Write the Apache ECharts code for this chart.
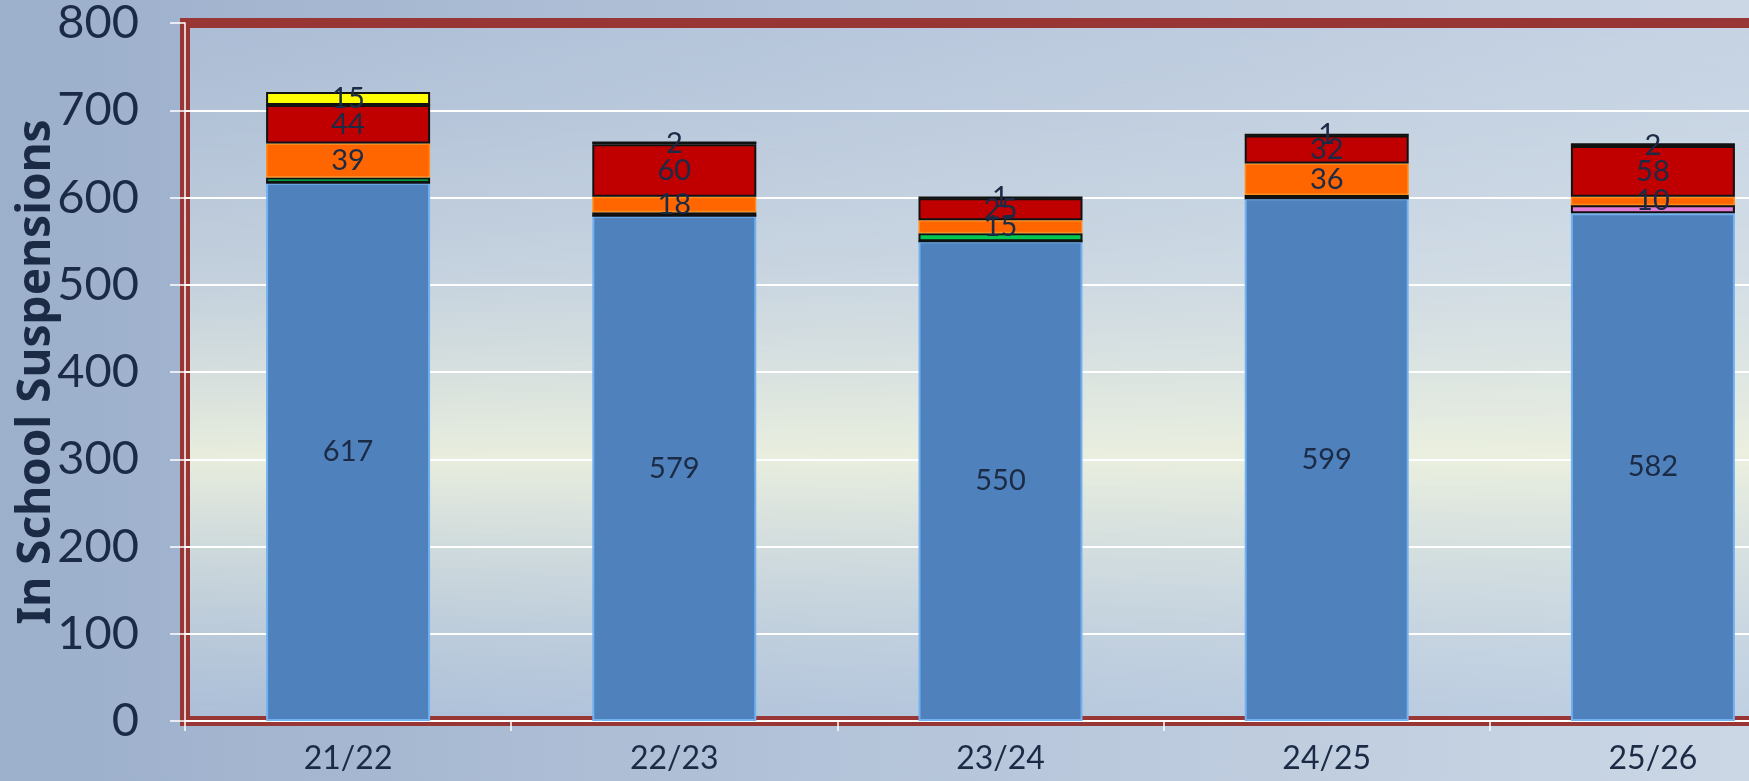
<!DOCTYPE html>
<html>
<head>
<meta charset="utf-8">
<script src="https://cdn.jsdelivr.net/npm/echarts@6/dist/echarts.min.js"></script>
<style>
  html, body { margin: 0; padding: 0; }
  body {
    width: 1749px; height: 781px; overflow: hidden;
    background: linear-gradient(to right, #9cafcb 0%, #b2c2d8 45%, #cbd7e5 100%);
  }
  #chart { width: 1749px; height: 781px; }
</style>
</head>
<body>
<div id="chart"></div>
<script>
// 学年
const years = ['21/22', '22/23', '23/24', '24/25', '25/26']
// 各段数值（自下而上）
const blueVals = [617, 579, 550, 599, 582]
const pinkVals = [0, 0, 0, 0, 9]
const greenVals = [6, 4, 9, 4, 0]
const orangeVals = [39, 18, 15, 36, 10]
const redVals = [44, 60, 25, 32, 58]
const oliveVals = [0, 2, 1, 1, 2]
const yellowVals = [15, 0, 0, 0, 0]
// y轴刻度
const yMin = 0
const yMax = 800
const yStep = 100

const textColor = '#1b2a45'
const labelFont = 'Lato, "Noto Sans", sans-serif'

// 分隔线颜色：最上面一条被红框盖住
const splitColors = []
for (let v = yMin; v <= yMax; v += yStep) {
  splitColors.push(v === yMax ? 'rgba(0,0,0,0)' : '#ffffff')
}

function segLabel (show) {
  return {
    show: show,
    position: 'inside',
    color: textColor,
    fontSize: 29,
    fontFamily: labelFont,
    formatter: (p) => p.value ? p.value : ''
  }
}

function barSeries (name, data, color, borderColor, borderWidth, showLabel) {
  return {
    name: name,
    type: 'bar',
    stack: 'total',
    barWidth: 164,
    data: data,
    itemStyle: {
      color: color,
      borderColor: borderColor,
      borderWidth: borderWidth
    },
    label: segLabel(showLabel),
    labelLayout: { hideOverlap: false }
  }
}

const myChart = echarts.init(document.getElementById('chart'))
const option = {
  animation: false,
  grid: {
    show: true,
    outerBoundsMode: 'none',
    containLabel: false,
    left: 185,
    top: 23,
    bottom: 60,
    right: -67,
    borderColor: '#983636',
    borderWidth: 10,
    backgroundColor: {
      type: 'linear', x: 0, y: 0, x2: 0, y2: 1,
      colorStops: [
        { offset: 0, color: 'rgba(190,205,225,0.35)' },
        { offset: 0.35, color: 'rgba(215,225,230,0.6)' },
        { offset: 0.62, color: 'rgba(238,242,222,0.92)' },
        { offset: 1, color: 'rgba(180,200,225,0.5)' }
      ]
    }
  },
  xAxis: {
    type: 'category',
    data: years,
    axisLine: { lineStyle: { color: '#ffffff', width: 1.5 } },
    axisTick: { show: true, length: 10, lineStyle: { color: '#ffffff', width: 1.5 } },
    axisLabel: {
      color: textColor,
      fontSize: 32,
      fontFamily: labelFont,
      margin: 22
    }
  },
  yAxis: {
    type: 'value',
    min: yMin,
    max: yMax,
    interval: yStep,
    name: 'In School Suspensions',
    nameLocation: 'middle',
    nameGap: 125,
    nameMoveOverlap: false,
    nameTextStyle: {
      color: textColor,
      fontSize: 46,
      fontWeight: 'bold',
      fontFamily: '"Noto Sans", sans-serif'
    },
    axisLine: { show: true, lineStyle: { color: '#ffffff', width: 1.5 } },
    axisTick: { show: true, length: 15, lineStyle: { color: '#ffffff', width: 1.5 } },
    axisLabel: {
      color: textColor,
      fontSize: 47,
      fontFamily: labelFont,
      margin: 46
    },
    splitLine: { show: true, lineStyle: { color: splitColors, width: 2 } }
  },
  series: [
    barSeries('blue', blueVals, '#4f81bd', '#72b2f0', 2, true),
    barSeries('pink', pinkVals, '#e27ad6', '#111111', 2, false),
    barSeries('green', greenVals, '#00c853', '#111111', 2, false),
    barSeries('orange', orangeVals, '#ff6600', '#ff8c1a', 1.5, true),
    barSeries('red', redVals, '#c00000', '#111111', 2, true),
    barSeries('olive', oliveVals, '#8a8a00', '#111111', 1.5, true),
    barSeries('yellow', yellowVals, '#ffff00', '#111111', 2, true)
  ]
}
myChart.setOption(option)
window.addEventListener('resize', () => myChart.resize())
</script>
</body>
</html>
